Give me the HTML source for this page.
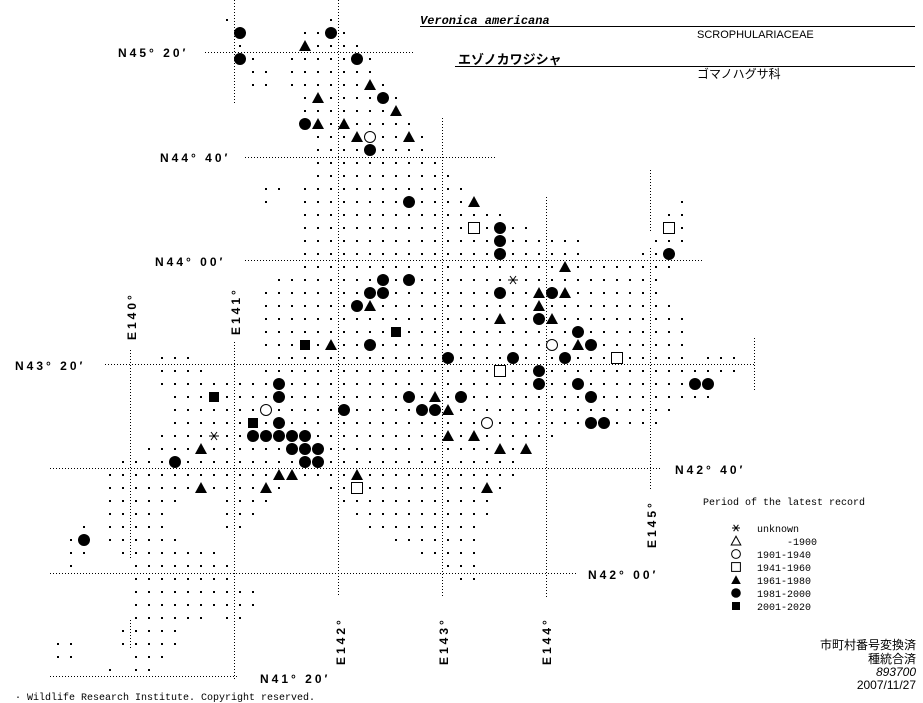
<!DOCTYPE html>
<html><head><meta charset="utf-8"><style>
html,body{margin:0;padding:0;background:#fff;}
svg{display:block;}
.lab{font-family:"Liberation Sans",sans-serif;font-weight:bold;font-size:12px;letter-spacing:3px;fill:#000;}
.mono{font-family:"Liberation Mono",monospace;font-size:10px;fill:#000;}
.jp{font-family:"Liberation Sans","Noto Sans CJK JP",sans-serif;fill:#000;}
</style></head><body>
<svg id="m" width="923" height="703" viewBox="0 0 923 703" xmlns="http://www.w3.org/2000/svg">
<g stroke="#000" stroke-width="1" stroke-dasharray="1 2" fill="none">
<line x1="205" y1="52.5" x2="415" y2="52.5"/>
<line x1="245" y1="157.5" x2="495" y2="157.5"/>
<line x1="245" y1="260.5" x2="704" y2="260.5"/>
<line x1="105" y1="364.5" x2="755" y2="364.5"/>
<line x1="50" y1="468.5" x2="662" y2="468.5"/>
<line x1="50" y1="573.5" x2="578" y2="573.5"/>
<line x1="50" y1="676.5" x2="238" y2="676.5"/>
<line x1="130.5" y1="350" x2="130.5" y2="560"/>
<line x1="130.5" y1="620" x2="130.5" y2="650"/>
<line x1="234.5" y1="0" x2="234.5" y2="105"/>
<line x1="234.5" y1="342" x2="234.5" y2="680"/>
<line x1="338.5" y1="0" x2="338.5" y2="597"/>
<line x1="442.5" y1="118" x2="442.5" y2="597"/>
<line x1="546.5" y1="197" x2="546.5" y2="597"/>
<line x1="650.5" y1="170" x2="650.5" y2="233"/>
<line x1="650.5" y1="248" x2="650.5" y2="490"/>
<line x1="754.5" y1="338" x2="754.5" y2="390"/>
</g>
<text class="lab" x="118" y="57">N45° 20′</text>
<text class="lab" x="160" y="162">N44° 40′</text>
<text class="lab" x="155" y="266">N44° 00′</text>
<text class="lab" x="15" y="370">N43° 20′</text>
<text class="lab" x="675" y="474">N42° 40′</text>
<text class="lab" x="588" y="579">N42° 00′</text>
<text class="lab" x="260" y="683">N41° 20′</text>
<text class="lab" transform="translate(136,340) rotate(-90)">E140°</text>
<text class="lab" transform="translate(240,335) rotate(-90)">E141°</text>
<text class="lab" transform="translate(345,665) rotate(-90)">E142°</text>
<text class="lab" transform="translate(448,665) rotate(-90)">E143°</text>
<text class="lab" transform="translate(551,665) rotate(-90)">E144°</text>
<text class="lab" transform="translate(656,548) rotate(-90)">E145°</text>
<text x="420" y="24" font-family="Liberation Mono,monospace" font-size="12" font-weight="bold" font-style="italic">Veronica americana</text>
<line x1="420" y1="26.5" x2="915" y2="26.5" stroke="#000"/>
<text x="697" y="38" font-family="Liberation Sans,sans-serif" font-size="11">SCROPHULARIACEAE</text>
<text class="jp" x="458" y="64" font-size="13" font-weight="bold">エゾノカワジシャ</text>
<line x1="455" y1="66.5" x2="915" y2="66.5" stroke="#000"/>
<text class="jp" x="697" y="78" font-size="12">ゴマノハグサ科</text>
<text class="mono" x="703" y="505">Period of the latest record</text>
<g class="mono">
<text x="757" y="532">unknown</text>
<text x="757" y="545" xml:space="preserve">     -1900</text>
<text x="757" y="558">1901-1940</text>
<text x="757" y="571">1941-1960</text>
<text x="757" y="584">1961-1980</text>
<text x="757" y="597">1981-2000</text>
<text x="757" y="610">2001-2020</text>
</g>
<g class="jp" font-size="12" text-anchor="end">
<text x="916" y="649">市町村番号変換済</text>
<text x="916" y="663">種統合済</text>
<text x="916" y="676" font-style="italic">893700</text>
<text x="916" y="689">2007/11/27</text>
</g>
<text x="15" y="700" font-family="Liberation Mono,monospace" font-size="10">· Wildlife Research Institute. Copyright reserved.</text>
<g id="g"></g>
</svg>
<script>
var rows={0:"-1,7",1:"5-8",2:"0,5-9",3:"0,1,4-10",4:"1,2,4-10",5:"1,2,4-11",6:"5-12",7:"5-12",8:"5-13",9:"6-14",10:"6-14",11:"6-15",12:"6-16",13:"2,3,5-17",14:"2,5-18,34",15:"5-20,33,34",16:"5-22,33,34",17:"5-26,32-34",18:"5-26,31-33",19:"5-33",20:"3-32",21:"2-32",22:"2-33",23:"2-34",24:"2-34",25:"2-34",26:"-6--4,3-34,36-38",27:"-6--3,2-38",28:"-6-36",29:"-5-36",30:"-5-33",31:"-5-32",32:"-6-24",33:"-7-22",34:"-9-21",35:"-10-21",36:"-10-3,7-20",37:"-10--5,-1-2,8-19",38:"-10--6,-1-1,9-19",39:"-12,-10--6,-1,0,10-18",40:"-13,-12,-10--5,12-18",41:"-13,-12,-9--2,14-18",42:"-13,-8--1,16-18",43:"-8--1,17,18",44:"-8-1",45:"-8-1",46:"-8--3,-1,0",47:"-9--5",48:"-14,-13,-9--5",49:"-14,-13,-8--6",50:"-10,-8,-7"};
var sym="1:c0 c7|2:t5|3:c0 c9|5:t10|6:t6 c11|7:t12|8:c5 t6 t8|9:t9 o10 t13|10:c10|14:c13 t18|16:s18 c20 s33|17:c20|18:c20 c33|19:t25|20:c11 c13 a21|21:c10 c11 c20 t23 c24 t25|22:c9 t10 t23|23:t20 c23 t24|24:S12 c26|25:S5 t7 c10 o24 t26 c27|26:c16 c21 c25 s29|27:s20 c23|28:c3 c23 c26 c35 c36|29:S-2 c3 c13 t15 c17 c27|30:o2 c8 c14 c15 t16|31:S1 c3 o19 c27 c28|32:a-2 c1 c2 c3 c4 c5 t16 t18|33:t-3 c4 c5 c6 t20 t22|34:c-5 c5 c6|35:t3 t4 t9|36:t-3 t2 s9 t19|40:c-12";
var X=function(i){return 240+13*i},Y=function(j){return 20+13*j};
var h="";
for(var j in rows){rows[j].split(",").forEach(function(p){var m=p.match(/^(-?\d+)(?:-(-?\d+))?$/);var a=+m[1],b=m[2]!==undefined?+m[2]:a;for(var i=a;i<=b;i++)h+='<rect x="'+(X(i)-1)+'" y="'+(Y(+j)-1)+'" width="2" height="2"/>';});}
function shp(t,x,y,k){k=k||1;
if(t=="c")return '<circle cx="'+x+'" cy="'+y+'" r="'+(6*k)+'"/>';
if(t=="o")return '<circle cx="'+x+'" cy="'+y+'" r="'+(5.5*k)+'" fill="#fff" stroke="#000"/>';
if(t=="t")return '<polygon points="'+(x-6*k)+','+(y+5*k)+' '+(x+6*k)+','+(y+5*k)+' '+x+','+(y-6*k)+'"/>';
if(t=="s")return '<rect x="'+(x-5.5*k)+'" y="'+(y-5.5*k)+'" width="'+(11*k)+'" height="'+(11*k)+'" fill="#fff" stroke="#000"/>';
if(t=="S")return '<rect x="'+(x-5*k)+'" y="'+(y-5*k)+'" width="'+(10*k)+'" height="'+(10*k)+'"/>';
if(t=="T")return '<polygon points="'+(x-6*k)+','+(y+5*k)+' '+(x+6*k)+','+(y+5*k)+' '+x+','+(y-6*k)+'" fill="#fff" stroke="#000"/>';
if(t=="a")return '<g stroke="#000" stroke-width="1"><line x1="'+(x-5*k)+'" y1="'+y+'" x2="'+(x+5*k)+'" y2="'+y+'"/><line x1="'+(x-3*k)+'" y1="'+(y-4*k)+'" x2="'+(x+3*k)+'" y2="'+(y+4*k)+'"/><line x1="'+(x+3*k)+'" y1="'+(y-4*k)+'" x2="'+(x-3*k)+'" y2="'+(y+4*k)+'"/></g>';
}
sym.split("|").forEach(function(r){var q=r.split(":"),j=+q[0];q[1].split(" ").forEach(function(s){var t=s[0],i=+s.slice(1);h+=shp(t,X(i),Y(j));});});
var L=["a","T","o","s","t","c","S"];
L.forEach(function(t,k){h+=shp(t,736,528+13*k,0.8);});
document.getElementById("g").innerHTML=h;
</script>
</body></html>
